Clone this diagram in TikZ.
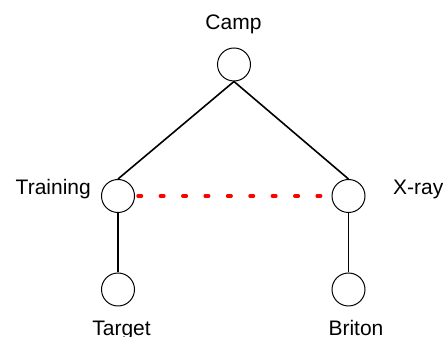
\documentclass[tikz,border=0pt]{standalone}
\usepackage{fontspec}
\setmainfont{Liberation Sans}
\begin{document}
\begin{tikzpicture}[x=1pt,y=1pt,
  vert/.style={circle,draw=black,line width=1pt,minimum size=33pt,inner sep=0pt,fill=white},
  lbl/.style={inner sep=0pt,font=\fontsize{21}{25}\selectfont},
  edge/.style={draw=black,line width=1.6pt},
  rel/.style={draw=red,line width=3.5pt,line cap=round,dash pattern=on 3.5pt off 18.9pt}]
\useasboundingbox (0,0) rectangle (445,337);
\fill[white] (0,0) rectangle (445,337);
\node[vert] (camp) at (234,272.5) {};
\node[vert] (train) at (118,141) {};
\node[vert] (xray) at (348.5,141) {};
\node[vert] (target) at (118,47.5) {};
\node[vert] (briton) at (348.5,47.5) {};
\draw[edge] (camp.south) -- (train.north);
\draw[edge] (camp.south) -- (xray.north);
\draw[edge] (train.south) -- (target.north);
\draw[edge] (xray.south) -- (briton.north);
\draw[rel] ([xshift=3pt]train.east) -- (xray.west);
\node[lbl,anchor=base] (tcamp) at (233.5,307) {Camp};
\node[lbl,anchor=base east] (ttrain) at (91,142) {Training};
\node[lbl,anchor=base west] (txray) at (393,142) {X-ray};
\node[lbl,anchor=base] (ttarget) at (121.5,1.5) {Target};
\node[lbl,anchor=base] (tbriton) at (356,1.5) {Briton};
\end{tikzpicture}
\end{document}
